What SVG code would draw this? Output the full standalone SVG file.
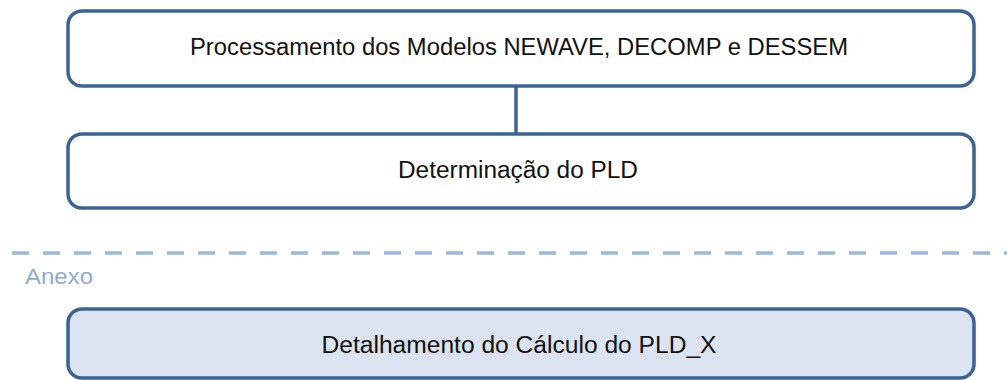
<svg xmlns="http://www.w3.org/2000/svg" width="1007" height="380" viewBox="0 0 1007 380">
<style>
.box{fill:#ffffff;stroke:#3d6393;stroke-width:3.5}
.annex{fill:#dbe4f0}
.lbl{font-family:"Liberation Sans",Arial,sans-serif;font-size:23px;fill:#111111;text-anchor:middle}
.conn{stroke:#3d6393;stroke-width:3.5;fill:none}
</style>
<rect width="1007" height="380" fill="#ffffff"/>
<g id="connectors">
<line class="conn" x1="516" y1="86" x2="516" y2="134"/>
</g>
<g id="node-processamento">
<rect class="box" x="68" y="11" width="906" height="75" rx="14"/>
<text class="lbl" x="519" y="55" textLength="658" lengthAdjust="spacingAndGlyphs">Processamento dos Modelos NEWAVE, DECOMP e DESSEM</text>
</g>
<g id="node-determinacao">
<rect class="box" x="68" y="134" width="906" height="74" rx="14"/>
<text class="lbl" x="518" y="178" textLength="240" lengthAdjust="spacingAndGlyphs">Determinação do PLD</text>
</g>
<g id="separator">
<line x1="12" y1="253" x2="1007" y2="253" stroke="#9cb8dc" stroke-width="3.5" stroke-dasharray="17 14"/>
<text x="25" y="284" font-family="'Liberation Sans',Arial,sans-serif" font-size="22" fill="#8fa9d4" textLength="68" lengthAdjust="spacingAndGlyphs">Anexo</text>
</g>
<g id="node-detalhamento">
<rect class="box annex" x="68" y="309" width="906" height="69" rx="14"/>
<text class="lbl" x="519" y="353" textLength="395" lengthAdjust="spacingAndGlyphs">Detalhamento do Cálculo do PLD_X</text>
</g>
</svg>
